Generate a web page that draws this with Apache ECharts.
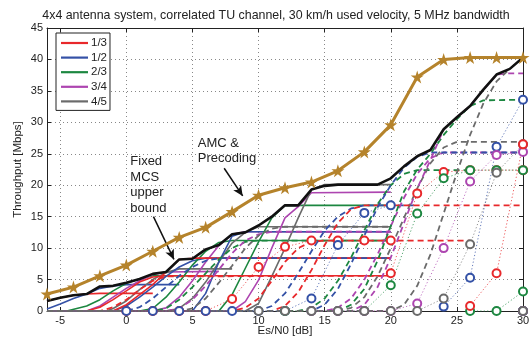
<!DOCTYPE html>
<html>
<head>
<meta charset="utf-8">
<script src="https://cdn.jsdelivr.net/npm/echarts@6/dist/echarts.min.js"></script>
<style>
  html, body { margin: 0; padding: 0; background: #fff; }
  #chart { width: 531px; height: 341px; }
</style>
</head>
<body>
<div id="chart"></div>
<script>
// code rates and their colours
const rates = ['1/3', '1/2', '2/3', '3/4', '4/5'];
const rateColors = ['#e8282b', '#3451a6', '#1c8740', '#ad45b0', '#6b6b6b'];

const xTicks = [-5, 0, 5, 10, 15, 20, 25, 30];

// AMC & precoding (stars), every 2 dB from -6 dB
const amcSnr = [-6, -4, -2, 0, 2, 4, 6, 8, 10, 12, 14, 16, 18, 20, 22, 24, 26, 28, 30];
const amcThroughput = [2.7, 3.8, 5.6, 7.3, 9.5, 11.7, 13.3, 15.8, 18.4, 19.6, 20.5, 22.3, 25.3, 29.6, 37.2, 40.0, 40.3, 40.3, 40.3];

// fixed MCS upper bound, every 1 dB from -6 dB
const boundSnr = [-6, -5, -4, -3, -2, -1, 0, 1, 2, 3, 4, 5, 6, 7, 8, 9, 10, 11, 12, 13, 14, 15, 16, 17, 18, 19, 20, 21, 22, 23, 24, 25, 26, 27, 28, 29, 30];
const boundThroughput = [1.6, 2.1, 2.5, 2.7, 3.9, 4.0, 4.5, 5.1, 5.9, 6.2, 8.2, 8.3, 9.8, 10.5, 12.2, 12.5, 13.6, 15.0, 16.8, 16.8, 19.3, 19.9, 20.1, 20.1, 20.1, 20.1, 21.1, 23.0, 24.6, 25.6, 28.9, 30.8, 32.6, 35.2, 37.6, 38.5, 40.3];

// solid curves, one per code rate: [snr, throughput]
const solidQam4 = [
  [[-6, 1.6], [-5, 2.1], [-4, 2.5], [-3, 2.7], [-2, 2.8], [2, 2.8]],
  [[-6, 0.3], [-5, 1.1], [-4, 2.0], [-3, 2.7], [-2, 3.6], [-1, 4.0], [0, 4.2], [4, 4.2]],
  [[-6, 0], [-4.5, 0], [-3, 0.8], [-2, 1.8], [-1, 3.2], [0, 4.4], [1, 5.1], [2, 5.6], [6, 5.6]],
  [[-6, 0], [-3, 0], [-2, 0.8], [-1, 2.2], [0, 3.6], [1, 4.8], [2, 5.8], [3, 6.2], [7, 6.3]],
  [[-6, 0], [-1.5, 0], [-1, 0.4], [0, 1.6], [1, 3.4], [2, 5.0], [3, 6.1], [4, 6.7], [8, 6.7]]
];
const solidQam16 = [
  [[-6, 0], [-3, 0], [-2, 0.6], [-1, 1.8], [0, 3.2], [1, 4.6], [2, 5.4], [3, 5.6], [20, 5.6]],
  [[-6, 0], [-1, 0], [0, 0.8], [1, 2.2], [2, 3.8], [3, 5.5], [4, 7.0], [5, 8.0], [6, 8.4], [20, 8.4]],
  [[-6, 0], [1, 0], [2, 0.4], [3, 2.2], [4, 4.6], [5, 7.3], [6, 9.5], [7, 10.9], [8, 11.2], [20, 11.2]],
  [[-6, 0], [2, 0], [3, 0.5], [4, 2.2], [5, 4.8], [6, 7.8], [7, 10.4], [8, 12.2], [9, 12.6], [20, 12.6]],
  [[-6, 0], [3, 0], [4, 0.4], [5, 2.0], [6, 4.6], [7, 7.8], [8, 10.8], [9, 12.5], [10, 13.4], [20, 13.4]]
];
const solidQam64 = [
  [[-6, 0], [-1, 0], [0, 1.0], [1, 2.6], [2, 4.2], [3, 6.2], [4, 8.2], [5, 8.4], [20, 8.4]],
  [[-6, 0], [5, 0], [6, 2.8], [7, 7.8], [8, 11.9], [9, 12.6], [20, 12.6]],
  [[-6, 0], [7, 0], [8, 2.6], [9, 6.8], [10, 11.0], [11, 14.8], [12, 16.8], [20, 16.8]],
  [[-6, 0], [8, 0], [9, 1.5], [10, 4.9], [11, 10.0], [12, 14.8], [13, 16.6], [14, 18.8], [20, 18.9]],
  [[-6, 0], [9, 0], [10, 1.2], [11, 5.5], [12, 10.0], [13, 14.8], [14, 19.3], [15, 20.1], [20, 20.1]]
];

// dashed curves
const dashedQam4 = [
  [[-6, 0], [-2, 0], [-1, 0.6], [0, 1.8], [1, 3.4], [2, 4.8], [3, 5.5], [20, 5.6]],
  [[-6, 0], [0, 0], [1, 0.6], [2, 2.0], [3, 3.8], [4, 5.6], [5, 7.0], [6, 8.0], [7, 8.4], [20, 8.4]],
  [[-6, 0], [2, 0], [3, 0.4], [4, 1.8], [5, 3.8], [6, 6.0], [7, 8.2], [8, 10.0], [9, 11.0], [10, 11.2], [20, 11.2]],
  [[-6, 0], [3, 0], [4, 0.4], [5, 1.8], [6, 4.0], [7, 6.6], [8, 9.2], [9, 11.2], [10, 12.2], [11, 12.6], [20, 12.6]],
  [[-6, 0], [4, 0], [5, 0.4], [6, 2.0], [7, 4.5], [8, 7.2], [9, 10.0], [10, 12.0], [11, 13.1], [12, 13.4], [20, 13.4]]
];
const dashedQam16 = [
  [[-6, 0], [8, 0], [9, 0.5], [10, 2.0], [11, 4.8], [12, 7.8], [13, 10.0], [14, 11.0], [15, 11.2], [26, 11.2]],
  [[-6, 0], [10, 0], [11, 0.8], [12, 2.8], [13, 6.0], [14, 9.5], [15, 12.8], [16, 15.0], [17, 16.3], [18, 16.8], [22, 16.8]],
  [[-6, 0], [13, 0], [14, 0.5], [15, 2.0], [16, 4.8], [17, 8.5], [18, 12.8], [19, 17.0], [20, 20.0], [21, 21.8], [22, 22.4], [26, 22.4]],
  [[-6, 0], [15, 0], [16, 0.5], [17, 2.0], [18, 5.0], [19, 9.0], [20, 13.5], [21, 18.0], [22, 21.8], [23, 24.3], [24, 25.2], [30, 25.2]],
  [[-6, 0], [16, 0], [17, 0.5], [18, 2.2], [19, 5.5], [20, 10.0], [21, 14.8], [22, 19.5], [23, 23.5], [24, 26.0], [25, 26.9], [30, 26.9]]
];
const dashedQam64 = [
  [[-6, 0], [11, 0], [12, 0.8], [13, 3.0], [14, 6.5], [15, 10.5], [16, 14.0], [17, 16.2], [18, 16.8], [30, 16.8]],
  [[-6, 0], [14, 0], [15, 1.0], [16, 3.5], [17, 7.5], [18, 12.0], [19, 16.5], [20, 20.0], [21, 22.8], [22, 24.5], [23, 25.2], [30, 25.2]],
  [[-6, 0], [16, 0], [17, 1.0], [18, 3.5], [19, 8.0], [20, 13.5], [21, 19.0], [22, 22.5], [23, 25.0], [24, 28.0], [25, 30.5], [26, 32.6], [27, 33.5], [30, 33.6]],
  [[-6, 0], [17, 0], [18, 1.0], [19, 3.8], [20, 8.5], [21, 14.0], [22, 19.5], [23, 24.0], [24, 28.9], [25, 30.8], [26, 32.6], [27, 35.2], [28, 37.6], [29, 37.8], [30, 37.8]],
  [[-6, 0], [20, 0], [21, 1.0], [22, 4.0], [23, 9.0], [24, 15.5], [25, 22.0], [26, 28.0], [27, 33.0], [28, 36.5], [29, 38.5], [30, 40.3]]
];

// dotted curves with circles, every 2 dB
const circleQam4 = [
  [[0, 0], [2, 0], [4, 0], [6, 0], [8, 1.9], [10, 7.0], [12, 10.2], [14, 11.2], [16, 11.2], [18, 11.2], [20, 11.2]],
  [[0, 0], [2, 0], [4, 0], [6, 0], [8, 0], [10, 0], [12, 0], [14, 2.0], [16, 10.5], [18, 15.6], [20, 16.8]],
  [[12, 0], [14, 0], [16, 0], [18, 0], [20, 4.1], [22, 15.5], [24, 21.1], [26, 22.4], [28, 22.4], [30, 22.4]],
  [[14, 0], [16, 0], [18, 0], [20, 0], [22, 1.2], [24, 10.0], [26, 20.6], [28, 24.8], [30, 25.3]],
  [[10, 0], [12, 0], [14, 0], [16, 0], [18, 0], [20, 0], [22, 0], [24, 2.0], [26, 10.6], [28, 22.0], [30, 26.5]]
];
const circleQam16 = [
  [[20, 6.0], [22, 18.7], [24, 22.1], [26, 22.4], [28, 22.4], [30, 22.4]],
  [[24, 0.7], [26, 5.3], [28, 26.1], [30, 33.6]],
  [[26, 0], [28, 0], [30, 3.1]],
  [[30, 0]],
  [[30, 0]]
];
const circleQam64 = [
  [[26, 0.8], [28, 6.0], [30, 26.5]],
  [[30, 0]],
  [[30, 0]],
  [[30, 0]],
  [[30, 0]]
];

// annotations (data coordinates)
const fixedNoteAt = [0.3, 25.0];
const amcNoteAt = [5.4, 27.9];
const fixedArrow = [[2.05, 15.0], [3.6, 8.2]];
const amcArrow = [[7.4, 22.7], [8.8, 18.3]];

const chart = echarts.init(document.getElementById('chart'));
const font = 'Liberation Sans, Arial, Helvetica, sans-serif';

const series = [];
function addFamily(sets, kind) {
  sets.forEach((pts, i) => {
    const s = {
      name: rates[i],
      type: 'line',
      data: pts,
      color: rateColors[i],
      silent: true,
      z: 2
    };
    if (kind === 'solid') {
      s.symbol = 'none';
      s.lineStyle = { width: 1.6, color: rateColors[i] };
    } else if (kind === 'dashed') {
      s.symbol = 'none';
      s.lineStyle = { width: 1.8, type: [6, 4], color: rateColors[i] };
    } else {
      s.symbol = 'emptyCircle';
      s.symbolSize = 8;
      s.showAllSymbol = true;
      s.clip = false;
      s.itemStyle = { color: rateColors[i], borderWidth: 1.5 };
      s.lineStyle = { width: 1, type: [1.2, 2.2], color: rateColors[i], opacity: 0.75 };
      s.z = 3;
    }
    series.push(s);
  });
}
addFamily(solidQam4, 'solid');
addFamily(solidQam16, 'solid');
addFamily(solidQam64, 'solid');
addFamily(dashedQam4, 'dashed');
addFamily(dashedQam16, 'dashed');
addFamily(dashedQam64, 'dashed');
addFamily(circleQam16, 'circle');
addFamily(circleQam4, 'circle');
addFamily(circleQam64, 'circle');

series.push({
  name: 'bound',
  type: 'line',
  data: boundSnr.map((x, i) => [x, boundThroughput[i]]),
  symbol: 'none',
  lineStyle: { color: '#111', width: 2.6 },
  z: 5,
  markLine: {
    silent: true,
    symbol: ['none', 'arrow'],
    symbolSize: [7, 10],
    label: { show: false },
    lineStyle: { color: '#111', width: 1.5, type: 'solid' },
    data: [
      [{ coord: fixedArrow[0] }, { coord: fixedArrow[1] }],
      [{ coord: amcArrow[0] }, { coord: amcArrow[1] }]
    ]
  }
});
series.push({
  name: 'amc',
  type: 'line',
  data: amcSnr.map((x, i) => [x, amcThroughput[i]]),
  symbol: 'path://M50,0 L61.8,36.2 L100,36.2 L69.1,58.8 L80.9,95.1 L50,72.7 L19.1,95.1 L30.9,58.8 L0,36.2 L38.2,36.2 Z',
  symbolSize: 13,
  showAllSymbol: true,
  clip: false,
  itemStyle: { color: '#b5832b' },
  lineStyle: { color: '#b5832b', width: 3 },
  z: 6
});

const axisText = { color: '#222', fontSize: 11, fontFamily: font };

chart.setOption({
  animation: false,
  textStyle: { fontFamily: font },
  title: {
    text: '4x4 antenna system, correlated TU channel, 30 km/h used velocity, 5 MHz bandwidth',
    left: 271, top: 5, textAlign: 'center',
    textStyle: { fontSize: 12.4, fontWeight: 'normal', color: '#222', fontFamily: font }
  },
  legend: {
    data: rates.map(r => ({ name: r, icon: 'rect' })),
    orient: 'vertical',
    left: 56, top: 33,
    itemWidth: 27, itemHeight: 2.2, itemGap: 2.6,
    padding: [4, 3, 3, 5],
    borderColor: '#222', borderWidth: 1,
    backgroundColor: '#fff',
    textStyle: { fontSize: 11.5, color: '#222', padding: [0, 0, 0, -2], lineHeight: 12 },
    selectedMode: false
  },
  grid: { left: 47, right: 8, top: 28, bottom: 30, outerBoundsMode: 'none' },
  xAxis: [{
    type: 'value', min: -6, max: 30,
    name: 'Es/N0 [dB]', nameLocation: 'middle', nameGap: 14, nameMoveOverlap: false,
    nameTextStyle: { fontSize: 11.5, color: '#222', verticalAlign: 'top' },
    axisLine: { onZero: false, lineStyle: { color: '#222', width: 1 } },
    axisTick: { inside: true, length: 4, customValues: xTicks, lineStyle: { color: '#222' } },
    axisLabel: { customValues: xTicks, margin: 4, ...axisText },
    splitLine: { show: true, lineStyle: { color: '#888', type: [1, 3], width: 1 } }
  }, {
    type: 'value', min: -6, max: 30, position: 'top',
    axisLine: { onZero: false, lineStyle: { color: '#222', width: 1 } },
    axisTick: { inside: true, length: 4, customValues: xTicks, lineStyle: { color: '#222' } },
    axisLabel: { show: false },
    splitLine: { show: false }
  }],
  yAxis: [{
    type: 'value', min: 0, max: 45, interval: 5,
    name: 'Throughput [Mbps]', nameLocation: 'middle', nameGap: 23, nameMoveOverlap: false,
    nameTextStyle: { fontSize: 11.5, color: '#222' },
    axisLine: { show: true, onZero: false, lineStyle: { color: '#222', width: 1 } },
    axisTick: { show: true, inside: true, length: 4, lineStyle: { color: '#222' } },
    axisLabel: { margin: 4, ...axisText },
    splitLine: { show: true, lineStyle: { color: '#888', type: [1, 3], width: 1 } }
  }, {
    type: 'value', min: 0, max: 45, interval: 5, position: 'right',
    axisLine: { show: true, onZero: false, lineStyle: { color: '#222', width: 1 } },
    axisTick: { show: true, inside: true, length: 4, lineStyle: { color: '#222' } },
    axisLabel: { show: false },
    splitLine: { show: false }
  }],
  series: series
});

// annotation texts placed from data coordinates
const fixedPx = chart.convertToPixel({ xAxisIndex: 0, yAxisIndex: 0 }, fixedNoteAt);
const amcPx = chart.convertToPixel({ xAxisIndex: 0, yAxisIndex: 0 }, amcNoteAt);
chart.setOption({
  graphic: [
    { type: 'text', x: fixedPx[0], y: fixedPx[1], z: 10,
      style: { text: 'Fixed\nMCS\nupper\nbound', font: '13px ' + font, lineHeight: 15.5, fill: '#222' } },
    { type: 'text', x: amcPx[0], y: amcPx[1], z: 10,
      style: { text: 'AMC &\nPrecoding', font: '13px ' + font, lineHeight: 15.5, fill: '#222' } }
  ]
});
</script>
</body>
</html>
